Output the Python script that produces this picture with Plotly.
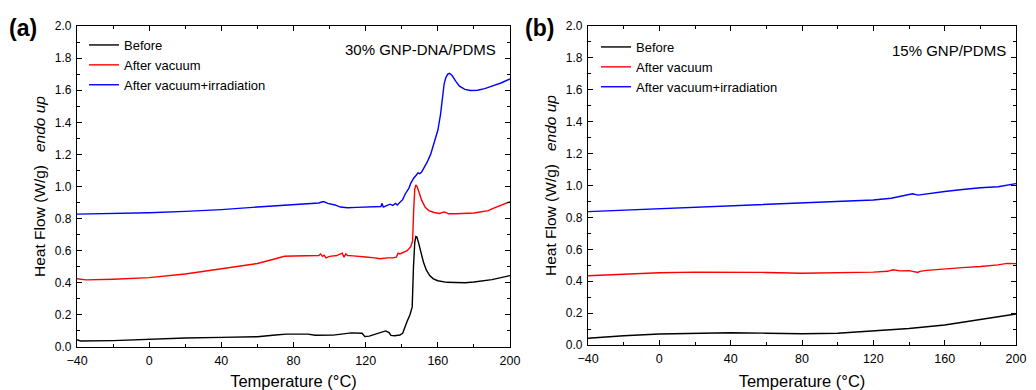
import plotly.graph_objects as go

# ---------------- Panel (a): 30% GNP-DNA/PDMS ----------------
a_before_T = [-40, -38, -20, 0, 20, 40, 60, 70, 76, 88, 92, 102, 110, 112, 118, 119.5, 122, 126, 130, 131,
              133, 134, 136, 139, 140.5, 141.5, 143, 144.5, 145.8, 146.5, 147.2, 147.8, 148.4, 149.3, 150.3,
              152, 153.6, 155.5, 157.5, 160, 165, 170, 175, 180, 190, 200]
a_before_y = [0.045, 0.037, 0.04, 0.05, 0.056, 0.06, 0.064, 0.075, 0.08, 0.08, 0.073, 0.074, 0.085, 0.088, 0.086,
              0.065, 0.068, 0.082, 0.1, 0.1, 0.09, 0.072, 0.07, 0.075, 0.085, 0.12, 0.16, 0.2, 0.25, 0.5, 0.65,
              0.688, 0.685, 0.65, 0.6, 0.53, 0.48, 0.445, 0.425, 0.413, 0.403, 0.40, 0.40, 0.405, 0.42, 0.445]

a_vac_T = [-40, -35, -20, 0, 20, 40, 50, 60, 70, 75, 80, 90, 94, 95, 96, 97, 98, 100, 104, 107, 108, 109, 110,
           113, 115, 120, 125, 128, 132, 135, 137, 138, 139, 140, 143, 145, 146, 146.6, 147.2, 147.8, 148.5,
           150, 151, 153, 155, 158, 161, 163, 164, 166, 170, 180, 186, 188, 190, 195, 200]
a_vac_y = [0.425, 0.418, 0.422, 0.432, 0.455, 0.486, 0.5, 0.52, 0.55, 0.565, 0.567, 0.571, 0.57, 0.58, 0.565,
           0.572, 0.555, 0.565, 0.57, 0.585, 0.56, 0.58, 0.57, 0.568, 0.565, 0.561, 0.555, 0.55, 0.555, 0.555,
           0.56, 0.585, 0.58, 0.585, 0.6, 0.625, 0.66, 0.85, 0.98, 1.01, 1.0, 0.95, 0.915, 0.87, 0.85, 0.838,
           0.832, 0.84, 0.84, 0.83, 0.83, 0.835, 0.845, 0.85, 0.86, 0.885, 0.905]

a_irr_T = [-40, -20, 0, 20, 40, 60, 80, 90, 94, 96, 97, 99, 103, 106, 110, 115, 120, 127, 128.5, 129, 129.8,
           131, 132.5, 133.5, 135, 136.5, 137.5, 139, 140.5, 142, 144, 145, 146.5, 148, 149, 150, 151, 152,
           154, 156, 158, 160, 161.5, 162.5, 163.5, 164.5, 165.5, 166.5, 168, 170, 172, 175, 178, 182, 186,
           190, 195, 200]
a_irr_y = [0.828, 0.83, 0.836, 0.845, 0.856, 0.872, 0.886, 0.895, 0.897, 0.905, 0.905, 0.895, 0.885, 0.872,
           0.868, 0.87, 0.872, 0.871, 0.875, 0.895, 0.872, 0.878, 0.885, 0.89, 0.882, 0.895, 0.885, 0.9, 0.918,
           0.955, 0.99, 1.02, 1.05, 1.07, 1.085, 1.08, 1.09, 1.11, 1.15, 1.2, 1.27, 1.35, 1.45, 1.55, 1.64,
           1.68, 1.7, 1.705, 1.69, 1.655, 1.625, 1.605, 1.598, 1.6, 1.61, 1.625, 1.645, 1.67]

# ---------------- Panel (b): 15% GNP/PDMS ----------------
b_before_T = [-40, -20, 0, 20, 40, 60, 80, 100, 120, 140, 160, 180, 200]
b_before_y = [0.042, 0.058, 0.069, 0.075, 0.077, 0.074, 0.071, 0.074, 0.088, 0.103, 0.125, 0.158, 0.194]

b_vac_T = [-40, -20, 0, 20, 40, 60, 80, 100, 120, 128, 131, 135, 140, 145, 146, 150, 160, 170, 180, 190, 195, 200]
b_vac_y = [0.434, 0.445, 0.453, 0.457, 0.457, 0.455, 0.45, 0.453, 0.457, 0.462, 0.472, 0.465, 0.466, 0.455,
           0.462, 0.468, 0.478, 0.485, 0.492, 0.502, 0.512, 0.51]

b_irr_T = [-40, -20, 0, 20, 40, 60, 80, 100, 120, 130, 140, 142, 145, 150, 160, 170, 180, 190, 200]
b_irr_y = [0.836, 0.845, 0.853, 0.862, 0.873, 0.881, 0.888, 0.897, 0.909, 0.92, 0.94, 0.948, 0.94, 0.948,
           0.962, 0.975, 0.986, 0.992, 1.012]

series_names = ["Before", "After vacuum", "After vacuum+irradiation"]
series_colors = ["#000000", "#ff0000", "#0000ff"]

x_ticks = [-40, 0, 40, 80, 120, 160, 200]
y_ticks = [0.0, 0.2, 0.4, 0.6, 0.8, 1.0, 1.2, 1.4, 1.6, 1.8, 2.0]

FONT = "Arial, Liberation Sans, sans-serif"

fig = go.Figure()

panel_a = [(a_before_T, a_before_y), (a_vac_T, a_vac_y), (a_irr_T, a_irr_y)]
panel_b = [(b_before_T, b_before_y), (b_vac_T, b_vac_y), (b_irr_T, b_irr_y)]

for (T, y), name, col in zip(panel_a, series_names, series_colors):
    fig.add_trace(go.Scatter(x=T, y=y, mode="lines", name=name, line=dict(color=col, width=1.4),
                             xaxis="x", yaxis="y", legend="legend"))
for (T, y), name, col in zip(panel_b, series_names, series_colors):
    fig.add_trace(go.Scatter(x=T, y=y, mode="lines", name=name, line=dict(color=col, width=1.4),
                             xaxis="x2", yaxis="y2", legend="legend2"))

W, H = 1036, 390


def xaxis(domain, anchor):
    return dict(domain=domain, anchor=anchor, range=[-40, 200], tickvals=x_ticks, automargin=False,
                ticks="inside", ticklen=5, tickwidth=1, tickcolor="black", ticklabelstandoff=2,
                minor=dict(dtick=20, tick0=-40, ticks="inside", ticklen=3, tickcolor="black"),
                showline=True, linecolor="black", linewidth=1.2, mirror="allticks",
                showgrid=False, zeroline=False,
                tickfont=dict(family=FONT, size=12.5, color="black"),
                title=dict(text="Temperature (°C)", font=dict(family=FONT, size=16.5, color="black"), standoff=11))


def yaxis(domain, anchor):
    return dict(domain=domain, anchor=anchor, range=[0, 2.0], tickvals=y_ticks, tickformat=".1f",
                automargin=False,
                ticks="inside", ticklen=5, tickwidth=1, tickcolor="black", ticklabelstandoff=2,
                minor=dict(dtick=0.1, tick0=0, ticks="inside", ticklen=3, tickcolor="black"),
                showline=True, linecolor="black", linewidth=1.2, mirror="allticks",
                showgrid=False, zeroline=False,
                tickfont=dict(family=FONT, size=12, color="black"),
                title=dict(text="Heat Flow (W/g)\u00a0\u00a0\u00a0<i>endo up</i>",
                           font=dict(family=FONT, size=15.5, color="black"), standoff=5))


fig.update_layout(
    width=W, height=H, margin=dict(l=0, r=0, t=0, b=0, autoexpand=False),
    paper_bgcolor="white", plot_bgcolor="white",
    xaxis=xaxis([77 / W, 510 / W], "y"),
    yaxis=yaxis([(H - 347) / H, (H - 26) / H], "x"),
    xaxis2=xaxis([588 / W, 1016 / W], "y2"),
    yaxis2=yaxis([(H - 345) / H, (H - 26) / H], "x2"),
    legend=dict(x=84 / W, y=(H - 30) / H, xanchor="left", yanchor="top", bgcolor="rgba(0,0,0,0)",
                font=dict(family=FONT, size=13, color="black"), tracegroupgap=0, itemwidth=30),
    legend2=dict(x=596 / W, y=(H - 32) / H, xanchor="left", yanchor="top", bgcolor="rgba(0,0,0,0)",
                 font=dict(family=FONT, size=13, color="black"), tracegroupgap=0, itemwidth=30),
    annotations=[
        dict(text="<b>(a)</b>", x=23 / W, y=(H - 28) / H, xref="paper", yref="paper", xanchor="center",
             yanchor="middle", showarrow=False, font=dict(family=FONT, size=23, color="black")),
        dict(text="<b>(b)</b>", x=539 / W, y=(H - 28) / H, xref="paper", yref="paper", xanchor="center",
             yanchor="middle", showarrow=False, font=dict(family=FONT, size=23, color="black")),
        dict(text="30% GNP-DNA/PDMS", x=498 / W, y=(H - 50) / H, xref="paper", yref="paper",
             xanchor="right", yanchor="middle", showarrow=False, font=dict(family=FONT, size=15, color="black")),
        dict(text="15% GNP/PDMS", x=1008 / W, y=(H - 51) / H, xref="paper", yref="paper",
             xanchor="right", yanchor="middle", showarrow=False, font=dict(family=FONT, size=15, color="black")),
    ],
    showlegend=True,
)

fig.write_html("out.html")
